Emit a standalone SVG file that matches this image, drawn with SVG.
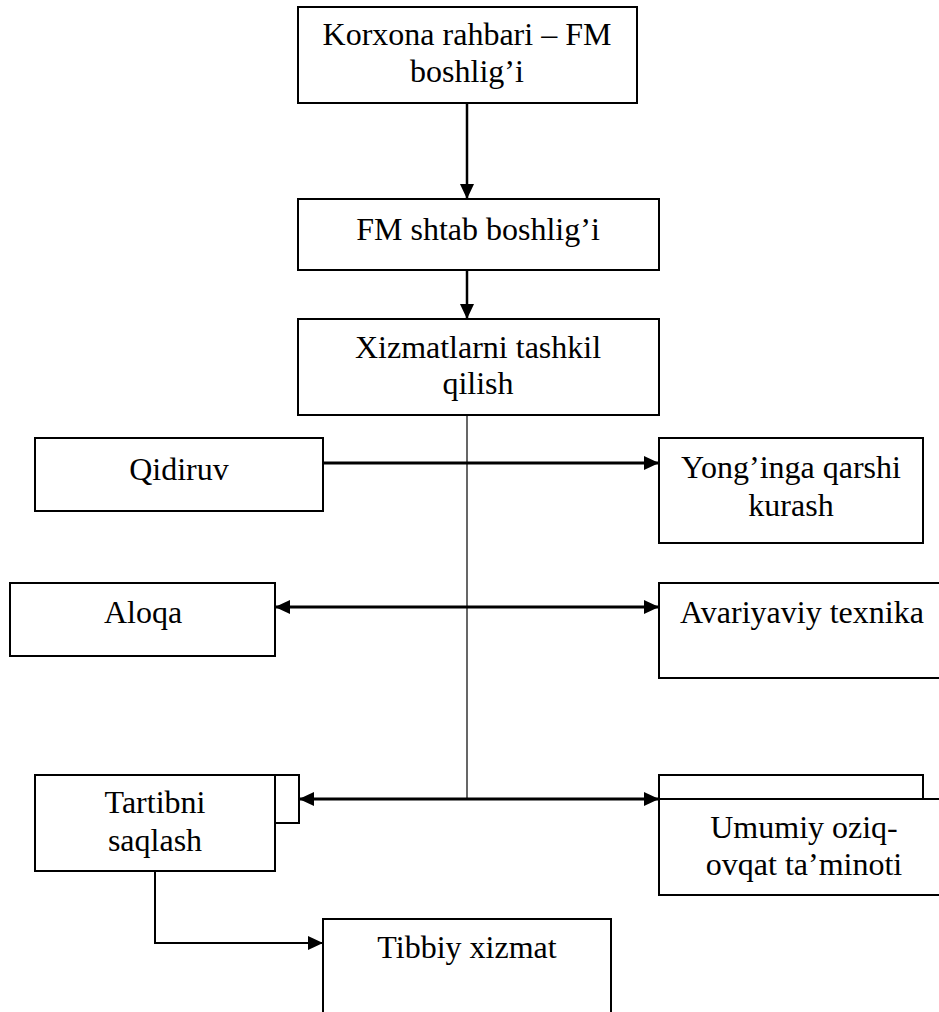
<svg xmlns="http://www.w3.org/2000/svg" width="939" height="1012" viewBox="0 0 939 1012">
<style>
.box{fill:#fff;stroke:#000;stroke-width:2}
.t{font-family:"Liberation Serif","Times New Roman","DejaVu Serif",serif;font-size:32px;fill:#000;text-anchor:middle}
.c{fill:none;stroke:#000}
</style>
<defs>
<marker id="ah" markerWidth="16" markerHeight="14" refX="15" refY="7" orient="auto-start-reverse" markerUnits="userSpaceOnUse">
<path d="M0,0 L15,7 L0,14 Z" fill="#000"/>
</marker>
</defs>
<rect width="939" height="1012" fill="#fff"/>
<g id="connectors">
<line class="c" x1="467" y1="103" x2="467" y2="199" stroke-width="2.5" marker-end="url(#ah)"/>
<line class="c" x1="467" y1="270" x2="467" y2="319" stroke-width="2.5" marker-end="url(#ah)"/>
<line class="c" x1="467" y1="415" x2="467" y2="799" stroke-width="1.2"/>
<line class="c" x1="323" y1="463" x2="659" y2="463" stroke-width="3" marker-end="url(#ah)"/>
<line class="c" x1="275" y1="607" x2="659" y2="607" stroke-width="3" marker-start="url(#ah)" marker-end="url(#ah)"/>
<line class="c" x1="299" y1="799" x2="659" y2="799" stroke-width="3" marker-start="url(#ah)" marker-end="url(#ah)"/>
<polyline class="c" points="155,871 155,943 323,943" stroke-width="2" marker-end="url(#ah)"/>
</g>
<g id="n1"><rect class="box" x="298" y="7" width="339" height="96"/>
<text class="t" x="467" y="45">Korxona rahbari – FM</text><text class="t" x="467" y="82">boshlig’i</text></g>
<g id="n2"><rect class="box" x="298" y="199" width="361" height="71"/>
<text class="t" x="478" y="240">FM shtab boshlig’i</text></g>
<g id="n3"><rect class="box" x="298" y="319" width="361" height="96"/>
<text class="t" x="478" y="358">Xizmatlarni tashkil</text><text class="t" x="478" y="394">qilish</text></g>
<g id="n4"><rect class="box" x="35" y="438" width="288" height="73"/>
<text class="t" x="179" y="480">Qidiruv</text></g>
<g id="n5"><rect class="box" x="659" y="438" width="264" height="105"/>
<text class="t" x="791" y="478">Yong’inga qarshi</text><text class="t" x="791" y="516">kurash</text></g>
<g id="n6"><rect class="box" x="10" y="583" width="265" height="73"/>
<text class="t" x="143" y="623">Aloqa</text></g>
<g id="n7"><rect class="box" x="659" y="583" width="300" height="95"/>
<text class="t" x="802" y="623">Avariyaviy texnika</text></g>
<g id="n8"><rect class="box" x="275" y="775" width="24" height="48"/><rect class="box" x="35" y="775" width="240" height="96"/>
<text class="t" x="155" y="813">Tartibni</text><text class="t" x="155" y="851">saqlash</text></g>
<g id="n9"><rect class="box" x="659" y="775" width="264" height="24"/><rect class="box" x="659" y="799" width="300" height="96"/>
<text class="t" x="804" y="838">Umumiy oziq-</text><text class="t" x="804" y="875">ovqat ta’minoti</text></g>
<g id="n10"><rect class="box" x="323" y="919" width="288" height="110"/>
<text class="t" x="467" y="958">Tibbiy xizmat</text></g>
</svg>
